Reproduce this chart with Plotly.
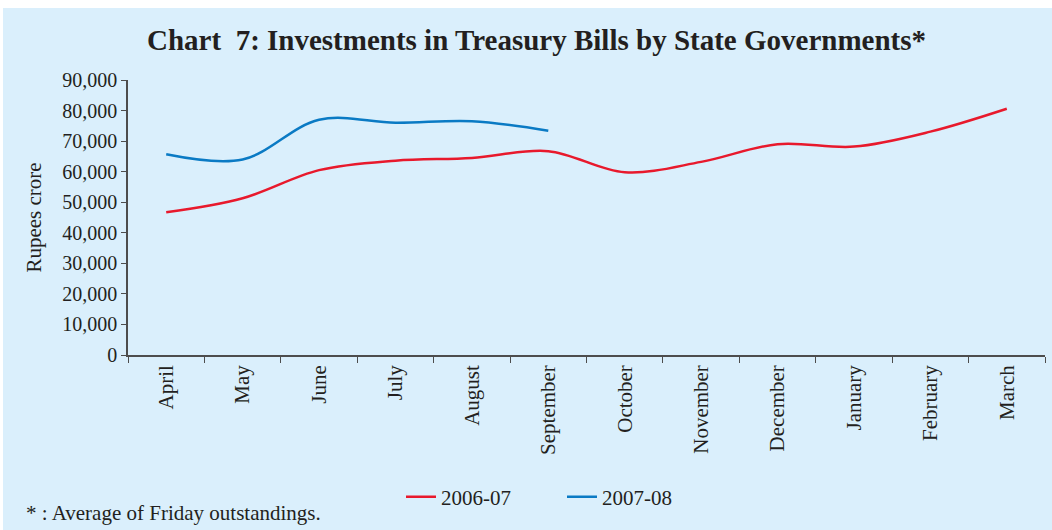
import plotly.graph_objects as go

months = ["April", "May", "June", "July", "August", "September", "October",
          "November", "December", "January", "February", "March"]
s2006 = [46700, 51300, 60500, 63600, 64500, 66700, 59800, 63200, 69000, 68200, 73100, 80600]
s2007 = [65700, 64000, 77000, 76000, 76500, 73400]
yticks = list(range(0, 90001, 10000))

W, H = 1052, 530
L, R, T, B = 128, 7, 80, 175
pw, ph = W - L - R, H - T - B

fig = go.Figure()
fig.add_trace(go.Scatter(x=months, y=s2006, name="2006-07", mode="lines",
                         line=dict(color="#E8192C", width=2.5, shape="spline", smoothing=1)))
fig.add_trace(go.Scatter(x=months[:len(s2007)], y=s2007, name="2007-08", mode="lines",
                         line=dict(color="#0A7AC4", width=2.5, shape="spline", smoothing=1)))

font = "Liberation Serif, Times New Roman, serif"
fig.update_layout(
    width=W, height=H,
    margin=dict(l=L, r=R, t=T, b=B),
    paper_bgcolor="white",
    plot_bgcolor="rgba(0,0,0,0)",
    font=dict(family=font, size=20, color="#231F20"),
    title=dict(text="<b>Chart  7: Investments in Treasury Bills by State Governments*</b>",
               x=0.51, xanchor="center", y=1 - 40 / H, yanchor="middle",
               font=dict(size=29, family=font, color="#231F20")),
    showlegend=True,
    legend=dict(orientation="h", x=(401 - L) / pw, xanchor="left", y=-(497 - 355) / ph, yanchor="middle",
                font=dict(size=21, family=font), bgcolor="rgba(0,0,0,0)",
                entrywidth=116, entrywidthmode="pixels"),
    xaxis=dict(type="category", categoryorder="array", categoryarray=months,
               range=[-0.5, 11.5], tickangle=-90, showline=True, linecolor="#4D4D4D",
               linewidth=1.5, ticks="outside", tickson="boundaries", ticklen=6,
               tickcolor="#4D4D4D", showgrid=False, zeroline=False,
               tickfont=dict(size=21, family=font)),
    yaxis=dict(range=[0, 90000], tickvals=yticks,
               ticktext=[f"{v:,}" for v in yticks], showline=True, linecolor="#4D4D4D",
               linewidth=1.5, ticks="outside", ticklen=5, tickcolor="#4D4D4D",
               showgrid=False, zeroline=False,
               title=dict(text="Rupees crore", font=dict(size=21, family=font), standoff=15),
               tickfont=dict(size=20, family=font)),
    shapes=[dict(type="rect", xref="paper", yref="paper", layer="below",
                 x0=-(L - 3) / pw, x1=1 + R / pw, y0=-B / ph, y1=1 + (T - 8) / ph,
                 fillcolor="#DAEFFC", line=dict(width=0))],
    annotations=[dict(text="* : Average of Friday outstandings.", xref="paper", yref="paper",
                      x=-(L - 24) / pw, xanchor="left", y=-(513 - 355) / ph, yanchor="middle",
                      showarrow=False, font=dict(size=21, family=font))],
)

fig.write_html("out.html")
